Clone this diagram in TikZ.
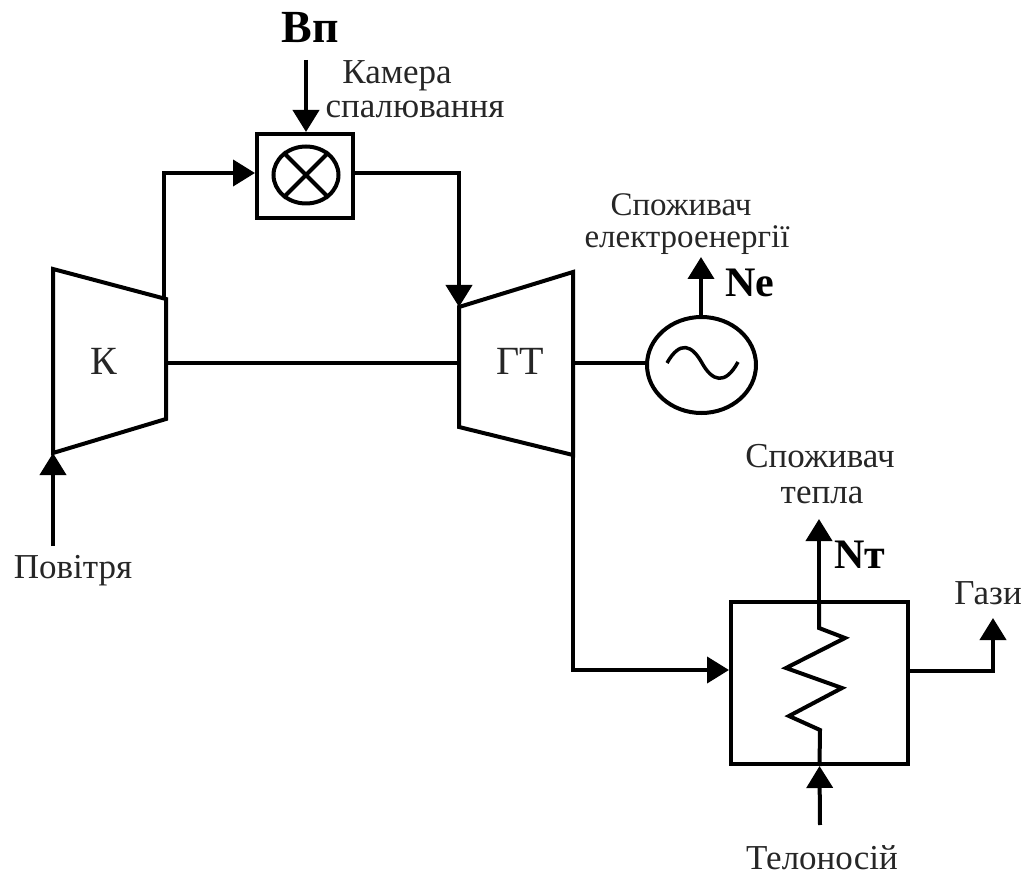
\documentclass[tikz,border=0pt]{standalone}
\usepackage{fontspec}
\setmainfont{Liberation Serif}
\usetikzlibrary{arrows.meta, positioning, shapes.geometric}

\begin{document}
\begin{tikzpicture}[
		x=1pt,
		y=-1pt,
		line width=4pt,
		myarrow/.style= {
				-{Triangle[length=22pt, width=26pt]}
			},
		pipe/.style= {
				line join=miter
			},
		block/.style= {
				draw,
				inner sep=0pt,
				minimum width=#1
			},
		caption/.style= {
				font=\fontsize{35}{37}\selectfont,
				text=black!85,
				anchor=base,
				inner sep=0pt
			},
		biglabel/.style= {
				caption,
				font=\fontsize{40}{42}\selectfont
			},
		boldlabel/.style= {
				font=\fontsize{42}{44}\selectfont\bfseries,
				anchor=base,
				inner sep=0pt
			}
	]
	\useasboundingbox (0,0) rectangle (1026,877);

	% turbine and compressor
	\coordinate (kin) at (53,453);
	\coordinate (kout) at (164,299);
	\coordinate (kshaft) at (166,363);
	\coordinate (tin) at (459,307);
	\coordinate (tshaft) at (459,363);
	\coordinate (tright) at (573,363);
	\coordinate (tout) at (573,455);
	\draw[pipe] (53,269) -- (166,299) -- (166,419) -- (kin) -- cycle;
	\draw[pipe] (tin) -- (573,272) -- (tout) -- (459,427) -- cycle;
	\node[biglabel] (k) at (104,374) {К};
	\node[biglabel] (gt) at (520,375) {ГТ};
	\draw (kshaft) -- (tshaft);

	% chamber
	\node[block=96pt, minimum height=84pt] (chamber) at (305,176) {};
	\node[draw, ellipse, minimum width=65pt, minimum height=57pt, inner sep=0pt] (burner) at (306,175) {};
	\draw (burner.45) -- (burner.225);
	\draw (burner.135) -- (burner.315);
	\coordinate (fuel) at (306,60);
	\coordinate (cornera) at (164,173);
	\coordinate (cornerb) at (459,173);
	\draw[myarrow] (fuel) -- (fuel |- chamber.north);
	\draw[myarrow] (kout) -- (cornera) -- (chamber.west |- cornera);
	\draw[myarrow] (chamber.east |- cornerb) -- (cornerb) -- (tin);
	\node[boldlabel, font=\fontsize{46}{48}\selectfont\bfseries] (bp) at (310,43) {Вп};
	\node[caption] (chlabela) at (397,84) {Камера};
	\node[caption] (chlabelb) at (415,118) {спалювання};

	% generator
	\node[draw, ellipse, minimum width=109pt, minimum height=96pt, inner sep=0pt] (gen) at (701.5,365) {};
	\draw (tright) -- (gen.west |- tright);
	\draw[line width=3.5pt] (667,363) .. controls (680,340) and (692,345) .. (702,363) .. controls (712,381) and (725,386) .. (738,362);
	\coordinate (elec) at (701,257);
	\draw[myarrow] (elec |- gen.north) -- (elec);
	\node[boldlabel] (ne) at (750,297) {Ne};
	\node[caption, font=\fontsize{33}{35}\selectfont] (eleclabela) at (681,216) {Споживач};
	\node[caption, font=\fontsize{33}{35}\selectfont] (eleclabelb) at (687,248) {електроенергії};

	% heat exchanger
	\node[block=177pt, minimum height=162pt] (boiler) at (819.5,683) {};
	\coordinate (bend) at (573,670);
	\draw[myarrow] (tout) -- (bend) -- (boiler.west |- bend);
	\coordinate (gasa) at (993,671);
	\coordinate (gasb) at (993,618);
	\draw[myarrow] (boiler.east |- gasa) -- (gasa) -- (gasb);
	\coordinate (heat) at (819,519);
	\coordinate (water) at (820,825);
	\draw[myarrow] (water) -- (boiler.south);
	\draw[pipe] (boiler.south) -- (820,730) -- (789,716) -- (842,688) -- (786,668) -- (845,638) -- (819,628) -- (819,602);
	\draw[myarrow] (819,602) -- (heat);
	\node[boldlabel] (nt) at (860,568) {Nт};
	\node[caption] (heatlabela) at (820,467) {Споживач};
	\node[caption] (heatlabelb) at (822,503) {тепла};
	\node[caption] (gaslabel) at (988,604) {Гази};
	\node[caption] (waterlabel) at (822,869) {Телоносій};
	\node[caption] (airlabel) at (73,578) {Повітря};

	\coordinate (air) at (53,546);
	\draw[myarrow] (air) -- (kin);
\end{tikzpicture}
\end{document}
